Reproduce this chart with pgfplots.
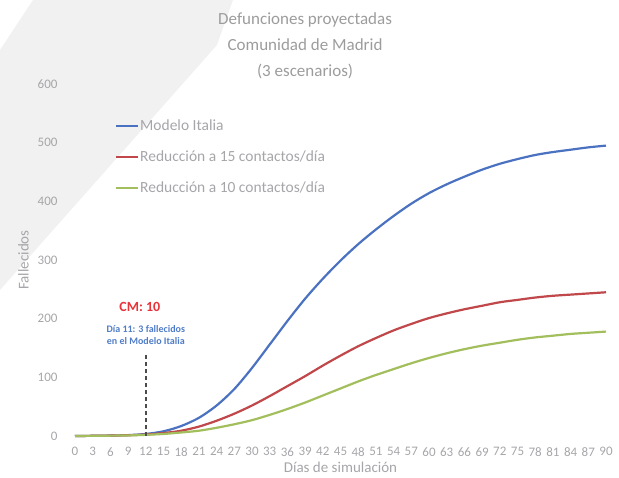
\documentclass[border=0pt]{standalone}
\usepackage{pgfplots}
\pgfplotsset{compat=1.18}
\usepackage{fontspec}
\setmainfont{Carlito}
\definecolor{cblue}{HTML}{4A72C0}
\definecolor{cred}{HTML}{C0474A}
\definecolor{cgreen}{HTML}{A3BE5C}
\definecolor{txtgray}{HTML}{A6A6AA}
\definecolor{ttlgray}{HTML}{9C9C9C}
\definecolor{annred}{HTML}{E8333A}
\definecolor{annblue}{HTML}{4F7CC8}
\definecolor{wmgray}{HTML}{F1F1F1}
\begin{document}
\begin{tikzpicture}[x=1pt,y=1pt]
\path[use as bounding box] (-75,-41) rectangle (544,436);
% faint watermark
\fill[wmgray] (-42,436) -- (158,436) -- (142,391) -- (-75,146) -- (-75,386) -- cycle;
\begin{axis}[
  at={(0,0)}, anchor=south west,
  scale only axis, width=531pt, height=352pt,
  xmin=0, xmax=90, ymin=0, ymax=600,
  xtick={0,3,...,90}, ytick={0,100,...,600},
  axis line style={draw=none},
  major tick length=0pt,
  /pgf/number format/assume math mode=true,
  tick label style={font=\fontsize{13}{13}\selectfont, color=txtgray},
  yticklabel style={xshift=-14pt},
  xticklabel style={yshift=-8pt},
  xlabel={Días de simulación},
  ylabel={Fallecidos},
  label style={font=\fontsize{15}{15}\selectfont, color=txtgray},
  xlabel style={yshift=1pt},
  ylabel style={yshift=2pt},
  legend style={at={(rel axis cs:0.075,0.902)}, anchor=north west, draw=none, fill=none,
    inner sep=0pt, font=\fontsize{15.5}{15.5}\selectfont\color{txtgray}, row sep=17pt,
    nodes={inner sep=1pt}},
  legend cell align=left,
  legend image code/.code={\draw[#1, line width=2.2pt] (0pt,0pt) -- (22pt,0pt);},
  every axis plot/.append style={line width=2.2pt, no marks, smooth},
  clip=false,
]
\addplot[cblue] coordinates {
(0,0) (3,0.3) (6,0.8) (9,1.5) (12,3.5) (15,8) (18,17) (21,31) (24,52) (27,80)
(30,116) (33,156) (36,196) (39,234) (42,268) (45,299) (48,327) (51,352) (54,375)
(57,396) (60,414) (63,429) (66,442) (69,454) (72,464) (75,472) (78,479) (81,484)
(84,488) (87,492) (90,495)};
\addlegendentry{Modelo Italia}
\addplot[cred] coordinates {
(0,0) (3,0.3) (6,0.7) (9,1.3) (12,2.5) (15,5) (18,9) (21,16) (24,26) (27,38)
(30,52) (33,68) (36,85) (39,102) (42,120) (45,137) (48,153) (51,167) (54,180)
(57,191) (60,201) (63,209) (66,216) (69,222) (72,228) (75,232) (78,236) (81,239)
(84,241) (87,243) (90,245)};
\addlegendentry{Reducción a 15 contactos/día}
\addplot[cgreen] coordinates {
(0,0) (3,0.3) (6,0.6) (9,1) (12,2) (15,3.5) (18,6) (21,9) (24,14) (27,20)
(30,27) (33,36) (36,46) (39,57) (42,69) (45,81) (48,93) (51,104) (54,114)
(57,124) (60,133) (63,141) (66,148) (69,154) (72,159) (75,164) (78,168) (81,171)
(84,174) (87,176) (90,178)};
\addlegendentry{Reducción a 10 contactos/día}
\draw[black!70, dash pattern=on 4pt off 3pt, line width=1.6pt] (axis cs:12,0) -- (axis cs:12,138);
\node[font=\bfseries\fontsize{14}{14}\selectfont, color=annred] at (axis cs:11,220) {CM: 10};
\node[font=\bfseries\fontsize{10}{11.5}\selectfont, color=annblue, align=center] at (axis cs:12,172) {Día 11: 3 fallecidos\\en el Modelo Italia};
\node[font=\fontsize{17}{26}\selectfont, color=ttlgray, align=center, anchor=north] at (axis cs:39,728) {Defunciones proyectadas\\Comunidad de Madrid\\(3 escenarios)};
\end{axis}
\end{tikzpicture}
\end{document}
